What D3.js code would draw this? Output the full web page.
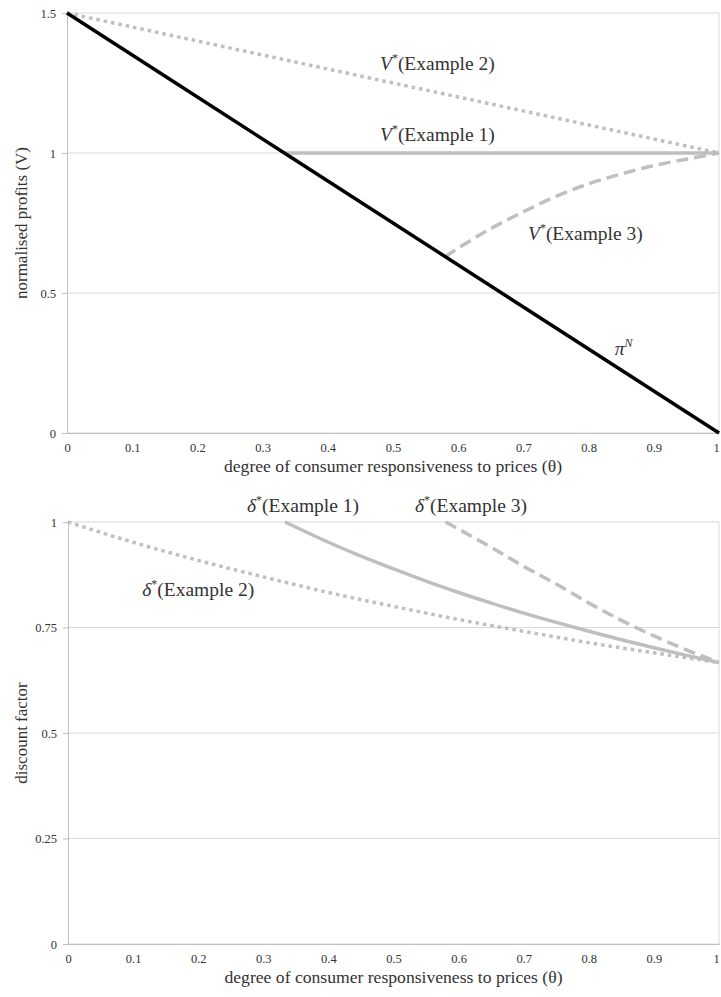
<!DOCTYPE html>
<html>
<head>
<meta charset="utf-8">
<script src="https://cdn.jsdelivr.net/npm/d3@7"></script>
<style>
    body { margin: 0; background: #fff; }
    text { font-family: "Liberation Serif", "DejaVu Serif", serif; fill: #333; }
</style>
</head>
<body>
<div id="container"></div>
<script>
// theta ticks shared by both panels
var thetaTicks = [0, 0.1, 0.2, 0.3, 0.4, 0.5, 0.6, 0.7, 0.8, 0.9, 1];

// top panel: normalised profits
var profitTicks = [0, 0.5, 1, 1.5];
var piN = [[0, 1.5], [1 / 3, 1], [1, 0]];
var vEx1 = [[1 / 3, 1], [1, 1]];
var vEx2 = [[0, 1.5], [0.2, 1.4], [0.4, 1.3], [0.6, 1.2], [0.8, 1.1], [1, 1]];
var vEx3 = [[0.58, 0.63], [0.6, 0.66], [0.65, 0.73], [0.7, 0.79], [0.75, 0.845],
            [0.8, 0.89], [0.85, 0.925], [0.9, 0.955], [0.95, 0.978], [1, 1]];

// bottom panel: discount factor
var deltaTicks = [0, 0.25, 0.5, 0.75, 1];
var dEx1 = [[1 / 3, 1], [0.4, 0.952], [0.45, 0.919], [0.5, 0.889], [0.55, 0.86], [0.6, 0.833],
            [0.65, 0.808], [0.7, 0.784], [0.75, 0.762], [0.8, 0.741], [0.85, 0.721],
            [0.9, 0.702], [0.95, 0.684], [1, 0.667]];
var dEx2 = [[0, 1], [0.1, 0.952], [0.2, 0.909], [0.3, 0.87], [0.4, 0.833], [0.5, 0.8],
            [0.6, 0.769], [0.7, 0.741], [0.8, 0.714], [0.9, 0.69], [1, 0.667]];
var dEx3 = [[0.58, 1], [0.65, 0.94], [0.7, 0.895], [0.75, 0.853], [0.8, 0.808],
            [0.85, 0.767], [0.9, 0.73], [0.95, 0.697], [1, 0.667]];

var W = 721, H = 997;
var serif = "Liberation Serif";
var svg = d3.select("#container").append("svg")
    .attr("width", W).attr("height", H);

drawPanel({
    left: 67, right: 719, top: 13, bottom: 433,
    yMax: 1.5, yTicks: profitTicks, yTitle: "normalised profits (V)",
    series: [
        { data: vEx2, color: "#bfbfbf", width: 3.5, dash: "3.5,4" },
        { data: vEx1, color: "#bfbfbf", width: 3.5, dash: null },
        { data: vEx3, color: "#bfbfbf", width: 3.5, dash: "12,6" },
        { data: piN, color: "#000", width: 3.5, dash: null }
    ],
    labels: [
        { sym: "V", sup: "*", rest: "(Example 2)", x: 0.48, y: 1.296 },
        { sym: "V", sup: "*", rest: "(Example 1)", x: 0.48, y: 1.043 },
        { sym: "V", sup: "*", rest: "(Example 3)", x: 0.707, y: 0.689 },
        { sym: "π", sup: "N", rest: "", x: 0.84, y: 0.28 }
    ]
});

drawPanel({
    left: 68, right: 719, top: 522, bottom: 944,
    yMax: 1, yTicks: deltaTicks, yTitle: "discount factor",
    series: [
        { data: dEx2, color: "#bfbfbf", width: 3.5, dash: "3.5,4" },
        { data: dEx1, color: "#bfbfbf", width: 3.5, dash: null },
        { data: dEx3, color: "#bfbfbf", width: 3.5, dash: "12,6" }
    ],
    labels: [
        { sym: "δ", sup: "*", rest: "(Example 1)", x: 0.275, y: 1.024 },
        { sym: "δ", sup: "*", rest: "(Example 3)", x: 0.533, y: 1.024 },
        { sym: "δ", sup: "*", rest: "(Example 2)", x: 0.114, y: 0.825 }
    ]
});

function drawPanel(p) {
    var x = d3.scaleLinear().domain([0, 1]).range([p.left, p.right]);
    var y = d3.scaleLinear().domain([0, p.yMax]).range([p.bottom, p.top]);
    var g = svg.append("g");

    // gridlines
    g.selectAll("line.grid")
        .data(p.yTicks)
        .enter()
        .append("line")
        .attr("x1", p.left).attr("x2", p.right)
        .attr("y1", function (d) { return y(d); })
        .attr("y2", function (d) { return y(d); })
        .attr("stroke", "#d9d9d9").attr("stroke-width", 1);

    // right border
    g.append("line")
        .attr("x1", p.right).attr("x2", p.right)
        .attr("y1", p.top).attr("y2", p.bottom)
        .attr("stroke", "#d9d9d9");

    // y axis
    var yAxis = g.append("g")
        .attr("transform", "translate(" + p.left + ",0)")
        .call(d3.axisLeft(y).tickValues(p.yTicks).tickSize(5).tickPadding(6)
            .tickFormat(function (d) { return String(d); }));
    yAxis.select(".domain").attr("stroke", "#bfbfbf");
    yAxis.selectAll(".tick line").attr("stroke", "#bfbfbf");
    yAxis.selectAll("text").style("font-family", serif).style("font-size", "12.5px").attr("fill", "#333");

    // x axis
    var xAxis = g.append("g")
        .attr("transform", "translate(0," + p.bottom + ")")
        .call(d3.axisBottom(x).tickValues(thetaTicks).tickSize(0).tickPadding(10)
            .tickFormat(function (d) { return String(d); }));
    xAxis.select(".domain").attr("stroke", "#bfbfbf");
    xAxis.selectAll("text").style("font-family", serif).style("font-size", "12.5px").attr("fill", "#333")
        .attr("dx", function (d) { return d === 1 ? -3 : 0; });

    // axis titles
    g.append("text")
        .attr("x", (p.left + p.right) / 2)
        .attr("y", p.bottom + 39)
        .attr("text-anchor", "middle")
        .style("font-family", serif)
        .style("font-size", "17px")
        .attr("textLength", 338)
        .attr("lengthAdjust", "spacingAndGlyphs")
        .text("degree of consumer responsiveness to prices (θ)");

    g.append("text")
        .attr("transform", "translate(27," + (p.top + p.bottom) / 2 + ") rotate(-90)")
        .attr("text-anchor", "middle")
        .style("font-family", serif)
        .style("font-size", "17px")
        .text(p.yTitle);

    // series
    var line = d3.line()
        .x(function (d) { return x(d[0]); })
        .y(function (d) { return y(d[1]); })
        .curve(d3.curveMonotoneX);

    g.selectAll("path.series")
        .data(p.series)
        .enter()
        .append("path")
        .attr("class", "series")
        .attr("d", function (d) { return line(d.data); })
        .attr("fill", "none")
        .attr("stroke", function (d) { return d.color; })
        .attr("stroke-width", function (d) { return d.width; })
        .attr("stroke-dasharray", function (d) { return d.dash; });

    // curve labels
    var lab = g.selectAll("text.label")
        .data(p.labels)
        .enter()
        .append("text")
        .attr("class", "label")
        .attr("x", function (d) { return x(d.x); })
        .attr("y", function (d) { return y(d.y); })
        .style("font-family", serif)
        .style("font-size", "19.5px")
        .attr("fill", "#222");
    lab.append("tspan").style("font-style", "italic").text(function (d) { return d.sym; });
    lab.append("tspan").attr("dy", -8).style("font-size", "12px")
        .style("font-style", function (d) { return d.sup === "N" ? "italic" : "normal"; })
        .text(function (d) { return d.sup; });
    lab.append("tspan").attr("dy", 8).text(function (d) { return d.rest; });
}
</script>
</body>
</html>
